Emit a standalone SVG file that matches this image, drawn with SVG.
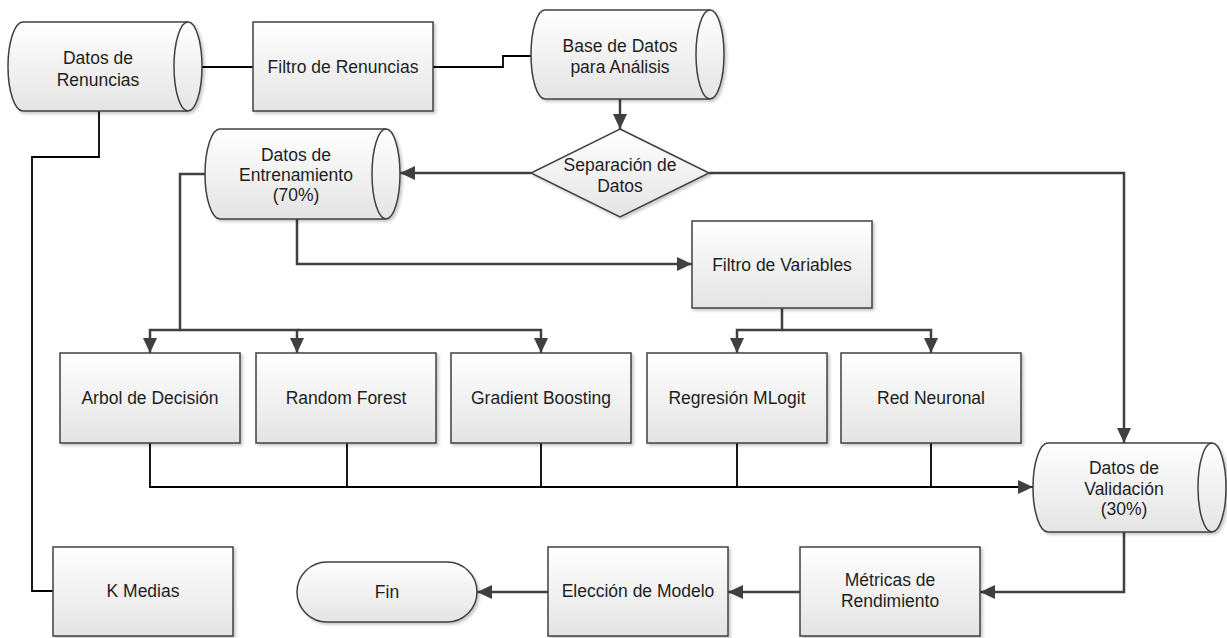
<svg xmlns="http://www.w3.org/2000/svg" width="1227" height="638" viewBox="0 0 1227 638">
<defs>
<linearGradient id="g" x1="0" y1="0" x2="0" y2="1">
<stop offset="0" stop-color="#ffffff"/>
<stop offset="1" stop-color="#e4e4e4"/>
</linearGradient>
<filter id="sh" x="-10%" y="-10%" width="130%" height="130%">
<feDropShadow dx="2" dy="2" stdDeviation="1.5" flood-color="#000" flood-opacity="0.22"/>
</filter>
<marker id="ar" viewBox="0 0 15 14" refX="15" refY="7" markerWidth="15" markerHeight="14" markerUnits="userSpaceOnUse" orient="auto">
<path d="M0,0 L15,7 L0,14 Z" fill="#404040"/>
</marker>
</defs>
<style>
.s{fill:url(#g);stroke:#404040;stroke-width:1.5;filter:url(#sh)}
.l{fill:none;stroke:#404040;stroke-width:1.5}
.t{font-family:"Liberation Sans",Arial,sans-serif;font-size:17.5px;fill:#1e1e1e;text-anchor:middle}
.c{fill:none;stroke:#404040;stroke-width:2.5}
.k{fill:none;stroke:#000;stroke-width:1.8}
</style>
<rect width="1227" height="638" fill="#fff"/>
<g id="connectors">
<path class="k" d="M188,67 H253"/>
<path class="k" d="M433,67 H503 V56 H531"/>
<path class="c" d="M620,99 V129" marker-end="url(#ar)"/>
<path class="c" d="M531,173 H400" marker-end="url(#ar)"/>
<path class="c" d="M709,173 H1124 V443" marker-end="url(#ar)"/>
<path class="c" d="M297,219 V264 H692" marker-end="url(#ar)"/>
<path class="c" d="M205,174 H180 V330 H150 V353" marker-end="url(#ar)"/>
<path class="c" d="M180,330 H297 V353" marker-end="url(#ar)"/>
<path class="c" d="M297,330 H541 V353" marker-end="url(#ar)"/>
<path class="c" d="M782,308 V330 H737 V353" marker-end="url(#ar)"/>
<path class="c" d="M782,330 H931 V353" marker-end="url(#ar)"/>
<path class="k" d="M150,443 V487 H1033" marker-end="url(#ar)"/>
<path class="k" d="M347,443 V487"/>
<path class="k" d="M541,443 V487"/>
<path class="k" d="M737,443 V487"/>
<path class="k" d="M931,443 V487"/>
<path class="c" d="M1124,532 V592 H980" marker-end="url(#ar)"/>
<path class="c" d="M800,592 H728" marker-end="url(#ar)"/>
<path class="c" d="M548,592 H477" marker-end="url(#ar)"/>
<path class="k" d="M99,111 V157 H32 V591 H53"/>
</g>
<g id="datos-renuncias">
<path class="s" d="M23,22 H188 A14,44.5 0 0 1 188,111 H23 A15,44.5 0 0 1 23,22 Z"/>
<path class="l" d="M188,22 A14,44.5 0 0 0 188,111"/>
<text class="t" x="98" y="64">Datos de</text>
<text class="t" x="98" y="86">Renuncias</text>
</g>
<g id="filtro-renuncias">
<rect class="s" x="253" y="22" width="180" height="89"/>
<text class="t" x="343" y="73">Filtro de Renuncias</text>
</g>
<g id="base-datos">
<path class="s" d="M545,10 H710 A14,44.5 0 0 1 710,99 H545 A14,44.5 0 0 1 545,10 Z"/>
<path class="l" d="M710,10 A14,44.5 0 0 0 710,99"/>
<text class="t" x="620" y="52">Base de Datos</text>
<text class="t" x="620" y="73">para Análisis</text>
</g>
<g id="separacion">
<path class="s" d="M620,129 L709,173 L620,217 L531,173 Z"/>
<text class="t" x="620" y="171">Separación de</text>
<text class="t" x="620" y="192">Datos</text>
</g>
<g id="entrenamiento">
<path class="s" d="M220,129 H386 A14,45 0 0 1 386,219 H220 A15,45 0 0 1 220,129 Z"/>
<path class="l" d="M386,129 A14,45 0 0 0 386,219"/>
<text class="t" x="296" y="161">Datos de</text>
<text class="t" x="296" y="181">Entrenamiento</text>
<text class="t" x="296" y="201">(70%)</text>
</g>
<g id="filtro-variables">
<rect class="s" x="692" y="221" width="180" height="87"/>
<text class="t" x="782" y="271">Filtro de Variables</text>
</g>
<g id="arbol">
<rect class="s" x="60" y="353" width="180" height="90"/>
<text class="t" x="150" y="404">Arbol de Decisión</text>
</g>
<g id="random-forest">
<rect class="s" x="256" y="353" width="180" height="90"/>
<text class="t" x="346" y="404">Random Forest</text>
</g>
<g id="gradient-boosting">
<rect class="s" x="451" y="353" width="180" height="90"/>
<text class="t" x="541" y="404">Gradient Boosting</text>
</g>
<g id="regresion">
<rect class="s" x="647" y="353" width="180" height="90"/>
<text class="t" x="737" y="404">Regresión MLogit</text>
</g>
<g id="red-neuronal">
<rect class="s" x="841" y="353" width="180" height="90"/>
<text class="t" x="931" y="404">Red Neuronal</text>
</g>
<g id="validacion">
<path class="s" d="M1048,443 H1212 A14,44.5 0 0 1 1212,532 H1048 A15,44.5 0 0 1 1048,443 Z"/>
<path class="l" d="M1212,443 A14,44.5 0 0 0 1212,532"/>
<text class="t" x="1124" y="474">Datos de</text>
<text class="t" x="1124" y="495">Validación</text>
<text class="t" x="1124" y="515">(30%)</text>
</g>
<g id="k-medias">
<rect class="s" x="53" y="547" width="180" height="89"/>
<text class="t" x="143" y="597">K Medias</text>
</g>
<g id="fin">
<rect class="s" x="297" y="562" width="180" height="60" rx="30" ry="30"/>
<text class="t" x="387" y="598">Fin</text>
</g>
<g id="eleccion">
<rect class="s" x="548" y="547" width="180" height="89"/>
<text class="t" x="638" y="597">Elección de Modelo</text>
</g>
<g id="metricas">
<rect class="s" x="800" y="547" width="180" height="89"/>
<text class="t" x="890" y="586">Métricas de</text>
<text class="t" x="890" y="607">Rendimiento</text>
</g>
</svg>
